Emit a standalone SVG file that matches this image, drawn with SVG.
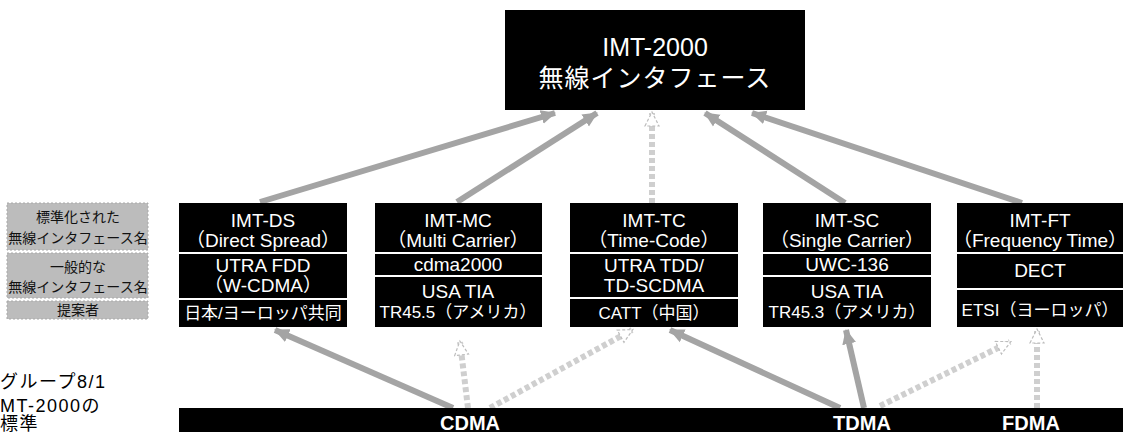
<svg xmlns="http://www.w3.org/2000/svg" width="1128" height="432" viewBox="0 0 1128 432">
<style>
text{font-family:"Liberation Sans","Noto Sans CJK JP",sans-serif}
.box{fill:#000}
.div{stroke:#fff;stroke-width:2}
.w{fill:#fff;font-size:19px;text-anchor:middle}
.wj{fill:#fff;font-size:17px;text-anchor:middle}
.top{fill:#fff;font-size:25px;text-anchor:middle}
.bar{fill:#fff;font-size:20px;font-weight:bold;text-anchor:middle}
.leg{fill:#bcbcbc;stroke:#a8a8a8;stroke-width:1;stroke-dasharray:2 2}
.lt{fill:#111;font-size:14px;text-anchor:middle}
.note{fill:#000;font-size:18px;letter-spacing:1.5px}
.dense{stroke:#a4a4a4;stroke-width:6;fill:none}
.light{stroke:#cfcfcf;stroke-width:6;fill:none;stroke-dasharray:5 3}
</style>
<defs>
<marker id="hd" markerUnits="userSpaceOnUse" markerWidth="18" markerHeight="18" refX="14" refY="8" orient="auto">
<path d="M0,1 L15,8 L0,15 Z" fill="#a4a4a4"/>
</marker>
<marker id="hl" markerUnits="userSpaceOnUse" markerWidth="18" markerHeight="18" refX="14" refY="8" orient="auto">
<path d="M1,1 L15,8 L1,15 Z" fill="#fff" stroke="#bdbdbd" stroke-width="1.2" stroke-dasharray="3 2"/>
</marker>
</defs>

<g id="connectors">
<line class="dense" x1="260" y1="202" x2="555" y2="113" marker-end="url(#hd)"/>
<line class="dense" x1="457" y1="202" x2="597" y2="113" marker-end="url(#hd)"/>
<line class="light" x1="652" y1="203" x2="652" y2="113" marker-end="url(#hl)"/>
<line class="dense" x1="845" y1="203" x2="705" y2="113" marker-end="url(#hd)"/>
<line class="dense" x1="1022" y1="203" x2="752" y2="113" marker-end="url(#hd)"/>
<line class="dense" x1="453" y1="408" x2="275" y2="330" marker-end="url(#hd)"/>
<line class="light" x1="468" y1="408" x2="460" y2="342" marker-end="url(#hl)"/>
<line class="light" x1="490" y1="408" x2="632" y2="330" marker-end="url(#hl)"/>
<line class="dense" x1="840" y1="408" x2="670" y2="330" marker-end="url(#hd)"/>
<line class="dense" x1="864" y1="408" x2="846" y2="330" marker-end="url(#hd)"/>
<line class="light" x1="880" y1="406" x2="1010" y2="342" marker-end="url(#hl)"/>
<line class="light" x1="1037" y1="408" x2="1037" y2="330" marker-end="url(#hl)"/>
</g>

<g id="imt2000">
<rect class="box" x="505" y="10" width="300" height="100"/>
<text class="top" x="655" y="56">IMT-2000</text>
<text class="top" x="655" y="87" letter-spacing="1">無線インタフェース</text>
</g>

<g id="imt-ds">
<rect class="box" x="179" y="203" width="168" height="124"/>
<line class="div" x1="179" y1="253" x2="347" y2="253"/>
<line class="div" x1="179" y1="299" x2="347" y2="299"/>
<text class="w" x="263" y="227">IMT-DS</text>
<text class="w" x="263" y="247">（Direct Spread）</text>
<text class="w" x="263" y="272">UTRA FDD</text>
<text class="w" x="263" y="292">（W-CDMA）</text>
<text class="wj" x="263" y="319">日本/ヨーロッパ共同</text>
</g>

<g id="imt-mc">
<rect class="box" x="375" y="203" width="167" height="124"/>
<line class="div" x1="375" y1="253" x2="542" y2="253"/>
<line class="div" x1="375" y1="276" x2="542" y2="276"/>
<text class="w" x="458" y="227">IMT-MC</text>
<text class="w" x="458" y="247">（Multi Carrier）</text>
<text class="w" x="458" y="271">cdma2000</text>
<text class="w" x="458" y="298">USA TIA</text>
<text class="wj" x="458" y="318">TR45.5（アメリカ）</text>
</g>

<g id="imt-tc">
<rect class="box" x="570" y="203" width="168" height="124"/>
<line class="div" x1="570" y1="253" x2="738" y2="253"/>
<line class="div" x1="570" y1="298" x2="738" y2="298"/>
<text class="w" x="654" y="227">IMT-TC</text>
<text class="w" x="654" y="247">（Time-Code）</text>
<text class="w" x="654" y="272">UTRA TDD/</text>
<text class="w" x="654" y="292">TD-SCDMA</text>
<text class="wj" x="654" y="319">CATT（中国）</text>
</g>

<g id="imt-sc">
<rect class="box" x="763" y="203" width="168" height="124"/>
<line class="div" x1="763" y1="253" x2="931" y2="253"/>
<line class="div" x1="763" y1="276" x2="931" y2="276"/>
<text class="w" x="847" y="227">IMT-SC</text>
<text class="w" x="847" y="247">（Single Carrier）</text>
<text class="w" x="847" y="271">UWC-136</text>
<text class="w" x="847" y="298">USA TIA</text>
<text class="wj" x="847" y="318">TR45.3（アメリカ）</text>
</g>

<g id="imt-ft">
<rect class="box" x="957" y="203" width="166" height="124"/>
<line class="div" x1="957" y1="253" x2="1123" y2="253"/>
<line class="div" x1="957" y1="289" x2="1123" y2="289"/>
<text class="w" x="1040" y="227">IMT-FT</text>
<text class="w" x="1040" y="247" font-size="18">（Frequency Time）</text>
<text class="w" x="1040" y="277">DECT</text>
<text class="wj" x="1040" y="316">ETSI（ヨーロッパ）</text>
</g>

<g id="access-bar">
<rect class="box" x="179" y="408" width="944" height="30"/>
<text class="bar" x="470" y="430">CDMA</text>
<text class="bar" x="862" y="430">TDMA</text>
<text class="bar" x="1031" y="430">FDMA</text>
</g>

<g id="legend">
<rect class="leg" x="7" y="203" width="141" height="47"/>
<text class="lt" x="78" y="222">標準化された</text>
<text class="lt" x="78" y="243">無線インタフェース名</text>
<rect class="leg" x="7" y="253" width="141" height="45"/>
<text class="lt" x="78" y="272">一般的な</text>
<text class="lt" x="78" y="292">無線インタフェース名</text>
<rect class="leg" x="7" y="301" width="141" height="18"/>
<text class="lt" x="78" y="315">提案者</text>
</g>

<g id="caption">
<text class="note" x="0" y="388">グループ8/1</text>
<text class="note" x="0" y="412">MT-2000の</text>
<text class="note" x="0" y="430" font-size="15">標準</text>
</g>
</svg>
